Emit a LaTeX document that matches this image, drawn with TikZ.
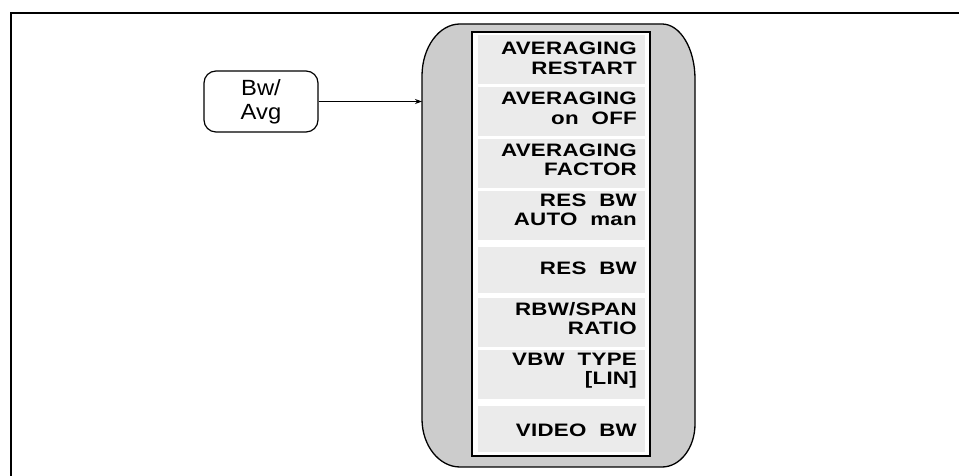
\documentclass[tikz,border=0pt]{standalone}
\usepackage{fontspec}
\setmainfont{Liberation Sans}
\newfontfamily\menufont{Liberation Sans Bold}[FakeStretch=1.24,LetterSpace=1.5,WordSpace=2]
\newfontfamily\keyfont{Liberation Sans}[FakeStretch=1.08]
\usetikzlibrary{arrows.meta}
\tikzset{
  frameline/.style={line width=2pt, black},
  menuitem/.style={font=\menufont\fontsize{18}{18}\selectfont, inner sep=0pt, anchor=base east},
  cellbg/.style={fill=black!8, draw=none},
  keybox/.style={draw, line width=1.2pt, rounded corners=12pt, minimum width=114pt, minimum height=61pt,
    font=\keyfont\fontsize{22}{24}\selectfont, align=center, inner sep=0pt},
  link/.style={line width=0.8pt, -{Stealth[length=7pt,width=5pt]}}
}
\begin{document}
\begin{tikzpicture}[x=1pt,y=1pt]
\useasboundingbox (0,0) rectangle (959,476);
% page frame (top and left edges)
\draw[frameline] (11,0) -- (11,463) -- (959,463);
% outer rounded menu panel
\filldraw[fill=black!20, draw=black, line width=1.3pt]
  (460,452) -- (662,452) arc[start angle=90,end angle=0,x radius=33,y radius=55]
  -- (695,52) arc[start angle=0,end angle=-90,x radius=33,y radius=43]
  -- (460,9) arc[start angle=270,end angle=180,x radius=38,y radius=48]
  -- (422,400) arc[start angle=180,end angle=90,x radius=38,y radius=52] -- cycle;
\coordinate (menuL) at (422,374.5);
% inner softkey column
\draw[fill=white, line width=1.2pt] (472,20) rectangle (650,444);
\fill[cellbg] (478,441) rectangle (645,392);
\fill[cellbg] (478,389) rectangle (645,340);
\fill[cellbg] (478,337) rectangle (645,288);
\fill[cellbg] (478,285) rectangle (645,236);
\fill[cellbg] (478,229) rectangle (645,183);
\fill[cellbg] (478,178) rectangle (645,129);
\fill[cellbg] (478,126) rectangle (645,77);
\fill[cellbg] (478,70) rectangle (645,24);
% softkey labels
\node[menuitem] (k1a) at (637,421) {AVERAGING};
\node[menuitem] (k1b) at (637,401) {RESTART};
\node[menuitem] (k2a) at (637,371) {AVERAGING};
\node[menuitem] (k2b) at (637,351) {on OFF};
\node[menuitem] (k3a) at (637,319) {AVERAGING};
\node[menuitem] (k3b) at (637,300) {FACTOR};
\node[menuitem] (k4a) at (637,269) {RES BW};
\node[menuitem] (k4b) at (637,250) {AUTO man};
\node[menuitem] (k5) at (637,201) {RES BW};
\node[menuitem] (k6a) at (637,160) {RBW/SPAN};
\node[menuitem] (k6b) at (637,141) {RATIO};
\node[menuitem] (k7a) at (637,110) {VBW TYPE};
\node[menuitem] (k7b) at (637,91) {[LIN]};
\node[menuitem] (k8) at (637,39) {VIDEO BW};
% front-panel key
\node[keybox] (key) at (261,374.5) {Bw/\\Avg};
\draw[link] (key.east) -- (menuL);
\end{tikzpicture}
\end{document}
